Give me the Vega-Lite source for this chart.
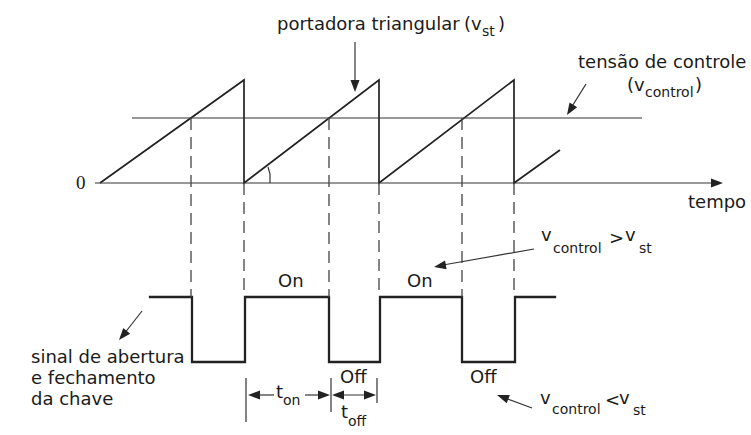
{
  "$schema": "https://vega.github.io/schema/vega-lite/v6.json",
  "width": 751,
  "height": 435,
  "autosize": {"type": "none"},
  "padding": 0,
  "background": "white",
  "config": {"view": {"stroke": null}},
  "datasets": {
    "lines": [
      {"id": "saw", "o": 1, "x": 100, "y": 183},
      {"id": "saw", "o": 2, "x": 244, "y": 80},
      {"id": "saw", "o": 3, "x": 244, "y": 183},
      {"id": "saw", "o": 4, "x": 379, "y": 80},
      {"id": "saw", "o": 5, "x": 379, "y": 183},
      {"id": "saw", "o": 6, "x": 514, "y": 80},
      {"id": "saw", "o": 7, "x": 514, "y": 183},
      {"id": "saw", "o": 8, "x": 560, "y": 150},
      {"id": "control", "o": 1, "x": 132, "y": 118},
      {"id": "control", "o": 2, "x": 642, "y": 118},
      {"id": "axis", "o": 1, "x": 95, "y": 183},
      {"id": "axis", "o": 2, "x": 714, "y": 183},
      {"id": "square", "o": 1, "x": 150, "y": 297},
      {"id": "square", "o": 2, "x": 192, "y": 297},
      {"id": "square", "o": 3, "x": 192, "y": 362},
      {"id": "square", "o": 4, "x": 245, "y": 362},
      {"id": "square", "o": 5, "x": 245, "y": 297},
      {"id": "square", "o": 6, "x": 329, "y": 297},
      {"id": "square", "o": 7, "x": 329, "y": 362},
      {"id": "square", "o": 8, "x": 380, "y": 362},
      {"id": "square", "o": 9, "x": 380, "y": 297},
      {"id": "square", "o": 10, "x": 462, "y": 297},
      {"id": "square", "o": 11, "x": 462, "y": 362},
      {"id": "square", "o": 12, "x": 515, "y": 362},
      {"id": "square", "o": 13, "x": 515, "y": 297},
      {"id": "square", "o": 14, "x": 555, "y": 297},
      {"id": "a1", "o": 1, "x": 355, "y": 42},
      {"id": "a1", "o": 2, "x": 355, "y": 84},
      {"id": "a2", "o": 1, "x": 586, "y": 84},
      {"id": "a2", "o": 2, "x": 571, "y": 108},
      {"id": "a3", "o": 1, "x": 534, "y": 249},
      {"id": "a3", "o": 2, "x": 443, "y": 265},
      {"id": "a4", "o": 1, "x": 142, "y": 311},
      {"id": "a4", "o": 2, "x": 124, "y": 334},
      {"id": "a5", "o": 1, "x": 532, "y": 408},
      {"id": "a5", "o": 2, "x": 505, "y": 398},
      {"id": "ton1", "o": 1, "x": 252, "y": 395},
      {"id": "ton1", "o": 2, "x": 274, "y": 395},
      {"id": "ton2", "o": 1, "x": 305, "y": 395},
      {"id": "ton2", "o": 2, "x": 325, "y": 395},
      {"id": "toff", "o": 1, "x": 336, "y": 395},
      {"id": "toff", "o": 2, "x": 371, "y": 395},
      {"id": "k1", "o": 1, "x": 246, "y": 378},
      {"id": "k1", "o": 2, "x": 246, "y": 422},
      {"id": "k2", "o": 1, "x": 331, "y": 378},
      {"id": "k2", "o": 2, "x": 331, "y": 412},
      {"id": "k3", "o": 1, "x": 377, "y": 378},
      {"id": "k3", "o": 2, "x": 377, "y": 403},
      {"id": "angle", "o": 1, "x": 268, "y": 167},
      {"id": "angle", "o": 2, "x": 270, "y": 174},
      {"id": "angle", "o": 3, "x": 270, "y": 183}
    ],
    "dashes": [
      {"x": 191, "y": 118, "y2": 297},
      {"x": 244, "y": 183, "y2": 297},
      {"x": 329, "y": 118, "y2": 297},
      {"x": 379, "y": 183, "y2": 297},
      {"x": 462, "y": 118, "y2": 297},
      {"x": 514, "y": 183, "y2": 297}
    ],
    "heads": [
      {"x": 355, "y": 92, "dir": 180},
      {"x": 567, "y": 115, "dir": 212},
      {"x": 434, "y": 267, "dir": 260},
      {"x": 119, "y": 340, "dir": 220},
      {"x": 497, "y": 395, "dir": 290},
      {"x": 723, "y": 183, "dir": 90},
      {"x": 248, "y": 395, "dir": 270},
      {"x": 330, "y": 395, "dir": 90},
      {"x": 332, "y": 395, "dir": 270},
      {"x": 376, "y": 395, "dir": 90}
    ],
    "texts": [
      {"label": "portadora triangular", "x": 277, "y": 25},
      {"label": "(v", "x": 464, "y": 25},
      {"label": ")", "x": 498, "y": 25},
      {"label": "tensão de controle", "x": 578, "y": 63},
      {"label": "(v", "x": 627, "y": 86},
      {"label": ")", "x": 695, "y": 86},
      {"label": "tempo", "x": 688, "y": 203},
      {"label": "On", "x": 278, "y": 282},
      {"label": "On", "x": 407, "y": 282},
      {"label": "v", "x": 541, "y": 236},
      {"label": ">", "x": 609, "y": 239},
      {"label": "v", "x": 625, "y": 236},
      {"label": "sinal de abertura", "x": 31, "y": 358},
      {"label": "e fechamento", "x": 31, "y": 379},
      {"label": "da chave", "x": 31, "y": 400},
      {"label": "Off", "x": 340, "y": 378},
      {"label": "Off", "x": 470, "y": 378},
      {"label": "t", "x": 276, "y": 393},
      {"label": "t", "x": 341, "y": 413},
      {"label": "v", "x": 540, "y": 399},
      {"label": "<", "x": 605, "y": 401},
      {"label": "v", "x": 619, "y": 399}
    ],
    "subs": [
      {"label": "st", "x": 482, "y": 32},
      {"label": "control", "x": 645, "y": 93},
      {"label": "control", "x": 553, "y": 249},
      {"label": "st", "x": 639, "y": 249},
      {"label": "on", "x": 283, "y": 401},
      {"label": "off", "x": 348, "y": 422},
      {"label": "control", "x": 552, "y": 410},
      {"label": "st", "x": 633, "y": 411}
    ],
    "serif": [
      {"label": "0", "x": 76, "y": 183}
    ]
  },
  "encoding": {
    "x": {"field": "x", "type": "quantitative", "scale": {"domain": [0, 751], "nice": false, "zero": false}, "axis": null},
    "y": {"field": "y", "type": "quantitative", "scale": {"domain": [0, 435], "nice": false, "zero": false, "reverse": true}, "axis": null}
  },
  "layer": [
    {
      "data": {"name": "lines"},
      "transform": [{"filter": "datum.id === 'square'"}],
      "mark": {"type": "line", "color": "#222222", "strokeWidth": 2.3, "strokeJoin": "miter", "strokeCap": "square"},
      "encoding": {"detail": {"field": "id"}, "order": {"field": "o", "type": "quantitative"}}
    },
    {
      "data": {"name": "lines"},
      "transform": [{"filter": "datum.id === 'saw'"}],
      "mark": {"type": "line", "color": "#222222", "strokeWidth": 1.7, "strokeJoin": "miter"},
      "encoding": {"detail": {"field": "id"}, "order": {"field": "o", "type": "quantitative"}}
    },
    {
      "data": {"name": "lines"},
      "transform": [{"filter": "datum.id !== 'saw' && datum.id !== 'square'"}],
      "mark": {"type": "line", "color": "#333333", "strokeWidth": 1.2},
      "encoding": {"detail": {"field": "id"}, "order": {"field": "o", "type": "quantitative"}}
    },
    {
      "data": {"name": "dashes"},
      "mark": {"type": "rule", "color": "#444444", "strokeWidth": 1.3, "strokeDash": [12, 7]},
      "encoding": {"y2": {"field": "y2"}}
    },
    {
      "data": {"name": "heads"},
      "mark": {"type": "point", "shape": "M0,0L0.75,2L-0.75,2Z", "filled": true, "color": "#222222", "opacity": 1, "size": 144, "strokeWidth": 0},
      "encoding": {"angle": {"field": "dir", "type": "quantitative", "scale": null}}
    },
    {
      "data": {"name": "texts"},
      "mark": {"type": "text", "font": "DejaVu Sans", "fontSize": 18, "align": "left", "baseline": "middle", "color": "#1a1a1a"},
      "encoding": {"text": {"field": "label"}}
    },
    {
      "data": {"name": "subs"},
      "mark": {"type": "text", "font": "DejaVu Sans", "fontSize": 14, "align": "left", "baseline": "middle", "color": "#1a1a1a"},
      "encoding": {"text": {"field": "label"}}
    },
    {
      "data": {"name": "serif"},
      "mark": {"type": "text", "font": "Liberation Serif", "fontSize": 19, "align": "left", "baseline": "middle", "color": "#1a1a1a"},
      "encoding": {"text": {"field": "label"}}
    }
  ]
}
